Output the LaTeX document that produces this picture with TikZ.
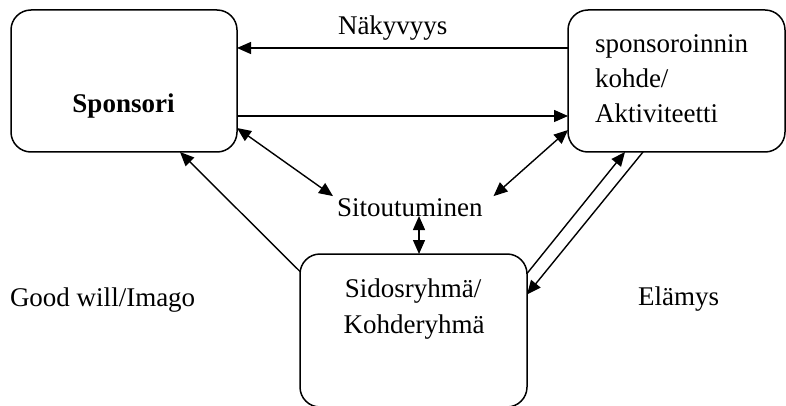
\documentclass[tikz,border=0pt]{standalone}
\usepackage{fontspec}
\setmainfont{Liberation Serif}
\usetikzlibrary{arrows.meta}

\begin{document}
\begin{tikzpicture}[x=1pt, y=-1pt,
  every node/.style={inner sep=0pt, outer sep=0pt},
  box/.style={draw, line width=1.5pt, rounded corners=20pt},
  lbl/.style={font=\fontsize{27}{32}\selectfont},
  conn/.style={line width=1.4pt, -{Triangle[length=14pt, width=12pt]}},
  both/.style={line width=1.4pt, {Triangle[length=14pt, width=12pt]}-{Triangle[length=14pt, width=12pt]}}
]
\useasboundingbox (0,0) rectangle (786,406);

% the three boxes
\node[box, minimum width=226pt, minimum height=142pt] (spons) at (124,81) {};
\node[box, minimum width=217pt, minimum height=142pt] (kohde) at (676.5,81) {};
\node[box, minimum width=227pt, minimum height=153pt] (sidos) at (413.5,330.5) {};

% texts inside the boxes
\node[lbl, anchor=base, font=\fontsize{27}{32}\selectfont\bfseries] (tspons) at (123.5,113) {Sponsori};
\node[lbl, anchor=base west] (tk1) at (595,53) {sponsoroinnin};
\node[lbl, anchor=base west] (tk2) at (595,88) {kohde/};
\node[lbl, anchor=base west] (tk3) at (595,123) {Aktiviteetti};
\node[lbl, anchor=base] (ts1) at (413,297) {Sidosryhmä/};
\node[lbl, anchor=base] (ts2) at (414,333) {Kohderyhmä};

% free labels
\node[lbl, anchor=base west] (nak) at (338,35) {Näkyvyys};
\node[lbl, anchor=base west, inner sep=4pt] (sitou) at (333,216) {Sitoutuminen};
\node[lbl, anchor=base west] (good) at (10,306) {Good will/Imago};
\node[lbl, anchor=base west] (elam) at (638,305) {Elämys};

% connectors between sponsor and target
\draw[conn] ([yshift=33pt]kohde.west) -- ([yshift=33pt]spons.east);
\draw[conn] ([yshift=-35pt]spons.east) -- ([yshift=-35pt]kohde.west);

% commitment arrows
\draw[both] ([yshift=-47pt]spons.east) -- ([yshift=-2pt]sitou.north west);
\draw[both] ([yshift=-49pt]kohde.west) -- ([xshift=7pt,yshift=-2pt]sitou.north east);
\coordinate (sitb) at ([xshift=5.5pt]sidos.north |- sitou.base);
\draw[both] (sitb) -- ([xshift=5.5pt]sidos.north);

% stakeholder arrows
\draw[conn] ([yshift=59pt]sidos.west) -- ([xshift=56pt]spons.south);
\draw[conn] ([yshift=57pt]sidos.east) -- ([xshift=-51.5pt]kohde.south);
\draw[conn] ([xshift=-33.5pt]kohde.south) -- ([yshift=36pt]sidos.east);
\end{tikzpicture}
\end{document}
